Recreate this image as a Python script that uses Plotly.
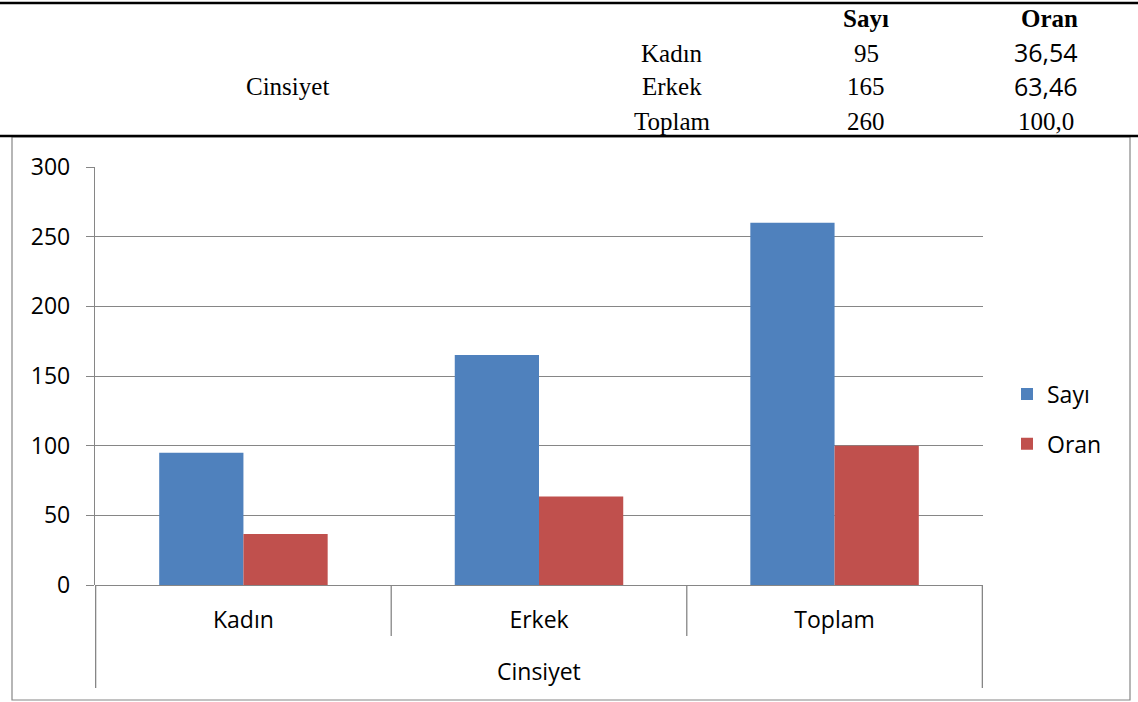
import plotly.graph_objects as go

# ---- data ----
group_label = "Cinsiyet"
categories = ["Kadın", "Erkek", "Toplam"]
sayi = [95, 165, 260]
oran = [36.54, 63.46, 100.0]
oran_text = ["36,54", "63,46", "100,0"]
series_names = ["Sayı", "Oran"]
y_ticks = [0, 50, 100, 150, 200, 250, 300]

# ---- layout constants (pixels) ----
W, H = 1138, 702
L, R, T, B = 95, 983, 167, 585
PW, PH = R - L, B - T


def px_x(px):
    return (px - L) / PW


def px_y(py):
    return (B - py) / PH


BLUE = "#4F81BD"
RED = "#C0504D"
GRID = "#868686"
SANS = "Open Sans"
SERIF = "Liberation Serif"
AX_SIZE = 23

fig = go.Figure()
fig.add_trace(go.Bar(x=categories, y=sayi, name=series_names[0], marker_color=BLUE,
                     marker_line_width=0, legendgroup="a"))
fig.add_trace(go.Bar(x=categories, y=oran, name=series_names[1], marker_color=RED,
                     marker_line_width=0, legendgroup="b"))

shapes = []
# table lines
shapes.append(dict(type="line", xref="paper", yref="paper", x0=px_x(0), x1=px_x(W),
                   y0=px_y(3), y1=px_y(3), line=dict(color="black", width=2.5)))
# chart border
shapes.append(dict(type="rect", xref="paper", yref="paper", x0=px_x(12), x1=px_x(1130),
                   y0=px_y(137), y1=px_y(700), line=dict(color=GRID, width=1.2)))
shapes.append(dict(type="line", xref="paper", yref="paper", x0=px_x(0), x1=px_x(W),
                   y0=px_y(136), y1=px_y(136), line=dict(color="black", width=2.5)))
# category dividers
n = len(categories)
for i in range(n + 1):
    pos = i - 0.5
    bottom = 688 if i in (0, n) else 636
    shapes.append(dict(type="line", xref="x", yref="paper", x0=pos, x1=pos,
                       y0=0, y1=px_y(bottom), line=dict(color=GRID, width=1.3)))

annotations = []
# table text
col_label, col_sayi, col_oran = 672, 866, 1046
row_y = [53, 87, 121]
annotations.append(dict(text="<b>Sayı</b>", x=px_x(col_sayi), y=px_y(19)))
annotations.append(dict(text="<b>Oran</b>", x=px_x(1049), y=px_y(19)))
annotations.append(dict(text=group_label, x=px_x(287), y=px_y(87)))
for i, cat in enumerate(categories):
    annotations.append(dict(text=cat, x=px_x(col_label), y=px_y(row_y[i])))
    annotations.append(dict(text=str(sayi[i]), x=px_x(col_sayi), y=px_y(row_y[i])))
    if i < 2:
        annotations.append(dict(text=oran_text[i], x=px_x(col_oran), y=px_y(row_y[i] - 1),
                                font=dict(family=SANS, size=25, color="black")))
    else:
        annotations.append(dict(text=oran_text[i], x=px_x(col_oran), y=px_y(row_y[i])))
for a in annotations:
    a.update(xref="paper", yref="paper", showarrow=False, xanchor="center", yanchor="middle")
    a.setdefault("font", dict(family=SERIF, size=25, color="black"))
# group label under axis
annotations.append(dict(text=group_label, xref="paper", yref="paper", x=0.5, y=px_y(671),
                        showarrow=False, xanchor="center", yanchor="middle",
                        font=dict(family=SANS, size=AX_SIZE, color="black")))

fig.update_layout(
    width=W, height=H,
    margin=dict(l=L, r=W - R, t=T, b=H - B, pad=0),
    paper_bgcolor="white", plot_bgcolor="white",
    barmode="group", bargap=0.43, bargroupgap=0,
    font=dict(family=SANS, size=AX_SIZE, color="black"),
    shapes=shapes, annotations=annotations,
    legend=dict(x=px_x(1007), y=px_y(419), xanchor="left", yanchor="middle",
                font=dict(family=SANS, size=AX_SIZE), tracegroupgap=17,
                bgcolor="rgba(0,0,0,0)"),
    xaxis=dict(type="category", showgrid=False, showline=False, ticks="",
               ticklabelstandoff=19, tickfont=dict(family=SANS, size=AX_SIZE)),
    yaxis=dict(range=[0, 300], tickvals=y_ticks, showgrid=True, gridcolor=GRID, gridwidth=1.2,
               showline=True, linecolor=GRID, linewidth=1.3, ticks="outside", ticklen=8,
               tickcolor=GRID, tickwidth=1.2, zeroline=True, zerolinecolor=GRID, zerolinewidth=1.3,
               ticklabelstandoff=11, tickfont=dict(family=SANS, size=AX_SIZE)),
)

fig.write_html("out.html", config={"displayModeBar": False},
               post_script="document.body.style.margin='0';")
